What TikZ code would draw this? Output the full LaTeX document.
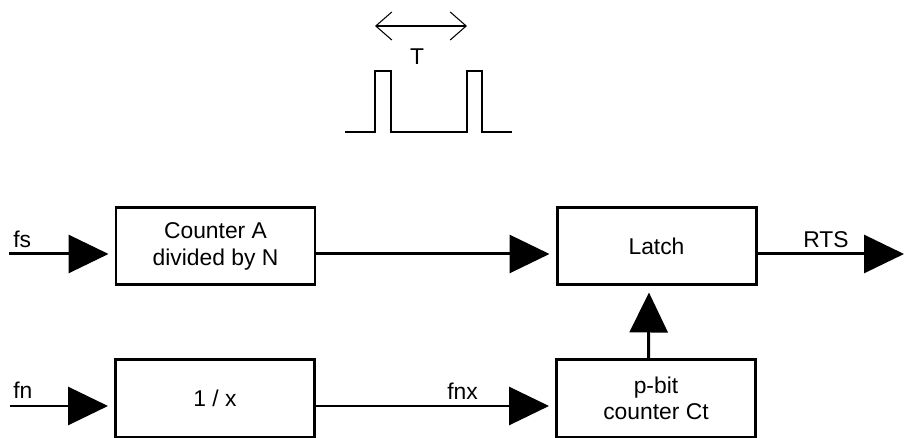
\documentclass[tikz,border=0pt]{standalone}
\usepackage{fontspec}
\setmainfont{Liberation Sans}
\usetikzlibrary{arrows.meta}
\begin{document}
\begin{tikzpicture}[block/.style={draw=black,line width=1.7pt,fill=white,minimum width=3.98cm,minimum height=1.54cm,align=center,inner sep=0pt,font=\fontsize{13}{15}\selectfont},
  sig/.style={line width=1.7pt,-{Triangle[length=0.8cm,width=0.76cm]},shorten >=0.12cm},
  lbl/.style={anchor=base west,inner sep=0pt,font=\fontsize{13}{15}\selectfont},
  wave/.style={line width=0.6pt},
  barb/.style={wave,{Straight Barb[length=0.32cm,width=0.56cm]}-{Straight Barb[length=0.32cm,width=0.56cm]}}]
  \useasboundingbox (0,0) rectangle (18.08,8.76);

  \node[block] (cnta) at (4.31,3.83) {Counter A\\divided by N};
  \node[block] (latch) at (13.13,3.83) {Latch};
  \node[block] (inv) at (4.3,0.79) {1 / x};
  \node[block] (ctr) at (13.12,0.79) {p-bit\\counter Ct};

  \coordinate (fs) at (0.18,3.68);
  \coordinate (fn) at (0.2,0.64);
  \coordinate (rts) at (18.08,3.68);

  \draw[sig] (fs) -- (cnta.west |- fs);
  \draw[sig] (cnta.east |- fs) -- (latch.west |- fs);
  \draw[sig,shorten >=0pt] (latch.east |- rts) -- (rts);
  \draw[sig] (fn) -- (inv.west |- fn);
  \draw[sig] (inv.east |- fn) -- (ctr.west |- fn);
  \draw[sig] ([xshift=-0.15cm]ctr.north) -- ([xshift=-0.15cm]latch.south);

  \node[lbl] (fslbl) at (0.26,3.8) {fs};
  \node[lbl] (rtslbl) at (16.06,3.8) {RTS};
  \node[lbl] (fnlbl) at (0.26,0.78) {fn};
  \node[lbl] (fnxlbl) at (8.94,0.76) {fnx};

  % pulse train with period T
  \coordinate (tl) at (7.5,8.24);
  \coordinate (tr) at (9.34,8.24);
  \draw[barb] (tl) -- (tr);
  \node[lbl,anchor=base] (tlbl) at (8.34,7.46) {T};
  \draw[wave] (6.9,6.12) -- (7.5,6.12) -- (7.5,7.34) -- (7.82,7.34) -- (7.82,6.12)
    -- (9.34,6.12) -- (9.34,7.34) -- (9.64,7.34) -- (9.64,6.12) -- (10.24,6.12);
\end{tikzpicture}
\end{document}
